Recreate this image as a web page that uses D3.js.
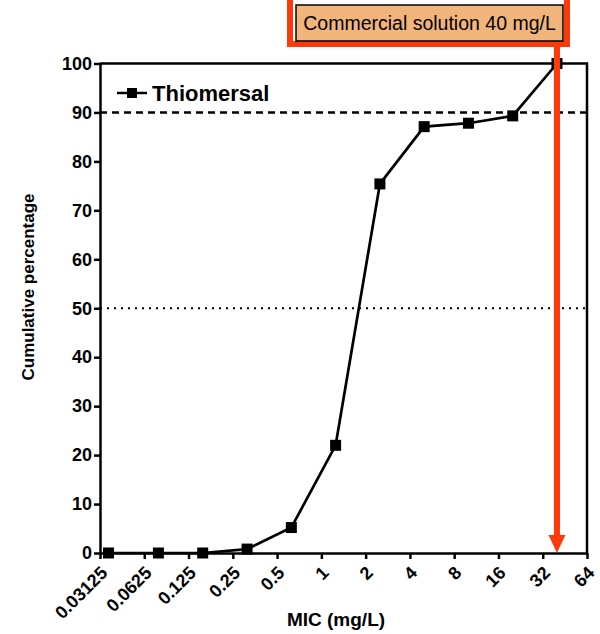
<!DOCTYPE html>
<html>
<head>
<meta charset="utf-8">
<script src="https://cdn.jsdelivr.net/npm/d3@7"></script>
<style>
  body { margin: 0; background: #fff; }
  svg { display: block; font-family: "Liberation Sans", Arial, sans-serif; }
</style>
</head>
<body>
<svg id="chart"></svg>
<script>
var WIDTH = 600;
var HEIGHT = 634;

// data
var micValues = [0.0357, 0.078, 0.156, 0.3125, 0.625, 1.25, 2.5, 5, 10, 20, 40];
var cumulative = [0, 0, 0, 0.8, 5.2, 22, 75.4, 87.1, 87.8, 89.3, 100];
var xTicks = [0.03125, 0.0625, 0.125, 0.25, 0.5, 1, 2, 4, 8, 16, 32, 64];
var xTickLabels = ['0.03125', '0.0625', '0.125', '0.25', '0.5', '1', '2', '4', '8', '16', '32', '64'];
var yTicks = [0, 10, 20, 30, 40, 50, 60, 70, 80, 90, 100];
var refLines = [90, 50];
var commercialMic = 40;
var seriesName = 'Thiomersal';

// plot box (px)
var plotLeft = 100, plotRight = 587, plotTop = 63.5, plotBottom = 553;

var svg = d3.select('#chart')
  .attr('width', WIDTH)
  .attr('height', HEIGHT);

var xScale = d3.scaleLog().base(2)
  .domain([0.03125, 64])
  .range([plotLeft, plotRight]);

var yScale = d3.scaleLinear()
  .domain([0, 100])
  .range([plotBottom, plotTop]);

// reference lines (90 dashed, 50 dotted)
svg.selectAll('line.ref')
  .data(refLines)
  .enter()
  .append('line')
  .attr('class', 'ref')
  .attr('x1', plotLeft)
  .attr('x2', plotRight)
  .attr('y1', function(d){ return yScale(d); })
  .attr('y2', function(d){ return yScale(d); })
  .attr('stroke', '#000')
  .attr('stroke-width', function(d){ return d == 90 ? 2.5 : 2; })
  .attr('stroke-dasharray', function(d){ return d == 90 ? '7,5' : '2,5'; });

// frame top + right
svg.append('path')
  .attr('d', 'M' + plotLeft + ',' + plotTop + 'H' + plotRight + 'V' + plotBottom)
  .attr('fill', 'none')
  .attr('stroke', '#000')
  .attr('stroke-width', 2.5);

// y axis
var leftAxis = d3.axisLeft(yScale)
  .tickValues(yTicks)
  .tickSize(6)
  .tickSizeOuter(0)
  .tickPadding(2);
var yAxis = svg.append('g')
  .attr('transform', 'translate(' + plotLeft + ',0)')
  .call(leftAxis);
yAxis.select('.domain').attr('stroke-width', 2.5);
yAxis.selectAll('.tick line').attr('stroke-width', 2.5);
yAxis.selectAll('.tick text')
  .style('font-size', '18px')
  .style('font-weight', 'bold')
  .style('font-family', '"Liberation Sans", Arial, sans-serif')
  .attr('fill', '#000');

// x axis
var bottomAxis = d3.axisBottom(xScale)
  .tickValues(xTicks)
  .tickFormat(function(d, i){ return xTickLabels[i]; })
  .tickSize(6)
  .tickSizeOuter(0);
var xAxis = svg.append('g')
  .attr('transform', 'translate(0,' + plotBottom + ')')
  .call(bottomAxis);
xAxis.select('.domain').attr('stroke-width', 2.5);
xAxis.selectAll('.tick line').attr('stroke-width', 2.5);
xAxis.selectAll('.tick text')
  .style('font-size', '18px')
  .style('font-weight', 'bold')
  .style('font-family', '"Liberation Sans", Arial, sans-serif')
  .attr('fill', '#000')
  .attr('text-anchor', 'end')
  .attr('y', 0)
  .attr('dy', 0)
  .attr('transform', 'translate(8,21) rotate(-45)');

// series line
var points = micValues.map(function(m, i){ return { x: m, y: cumulative[i] }; });
var line = d3.line()
  .x(function(d){ return xScale(d.x); })
  .y(function(d){ return yScale(d.y); });

svg.append('path')
  .datum(points)
  .attr('d', line)
  .attr('fill', 'none')
  .attr('stroke', '#000')
  .attr('stroke-width', 2.7);

svg.selectAll('rect.pt')
  .data(points)
  .enter()
  .append('rect')
  .attr('class', 'pt')
  .attr('x', function(d){ return xScale(d.x) - 5.5; })
  .attr('y', function(d){ return yScale(d.y) - 5.5; })
  .attr('width', 11)
  .attr('height', 11)
  .attr('fill', '#000');

// legend
var legend = svg.append('g').attr('transform', 'translate(117,93)');
legend.append('line')
  .attr('x1', 0).attr('x2', 30)
  .attr('stroke', '#000').attr('stroke-width', 2.5);
legend.append('rect')
  .attr('x', 10).attr('y', -5).attr('width', 10).attr('height', 10)
  .attr('fill', '#000');
legend.append('text')
  .attr('x', 35).attr('y', 8)
  .attr('font-size', 22)
  .attr('font-weight', 'bold')
  .text(seriesName);

// axis titles
svg.append('text')
  .attr('transform', 'translate(34,287) rotate(-90)')
  .attr('text-anchor', 'middle')
  .attr('font-size', 17)
  .attr('font-weight', 'bold')
  .text('Cumulative percentage');

svg.append('text')
  .attr('x', 336)
  .attr('y', 626)
  .attr('text-anchor', 'middle')
  .attr('font-size', 19)
  .attr('font-weight', 'bold')
  .text('MIC (mg/L)');

// commercial solution annotation
var red = '#ff3a0a';
var cx = xScale(commercialMic);
svg.append('line')
  .attr('x1', cx).attr('x2', cx)
  .attr('y1', 44).attr('y2', plotBottom - 17)
  .attr('stroke', red)
  .attr('stroke-width', 6);
svg.append('path')
  .attr('d', 'M' + (cx - 8.5) + ',' + (plotBottom - 18) + 'L' + (cx + 8.5) + ',' + (plotBottom - 18) + 'L' + cx + ',' + plotBottom + 'Z')
  .attr('fill', red);

svg.append('rect')
  .attr('x', 290).attr('y', -3)
  .attr('width', 277).attr('height', 47)
  .attr('fill', '#fff')
  .attr('stroke', red)
  .attr('stroke-width', 6);
svg.append('rect')
  .attr('x', 296).attr('y', 5)
  .attr('width', 267).attr('height', 36)
  .attr('fill', '#f1b47b')
  .attr('stroke', '#000')
  .attr('stroke-width', 1.5);
svg.append('text')
  .attr('x', 429.5).attr('y', 30)
  .attr('text-anchor', 'middle')
  .attr('font-size', 19.5)
  .text('Commercial solution ' + commercialMic + ' mg/L');
</script>
</body>
</html>
